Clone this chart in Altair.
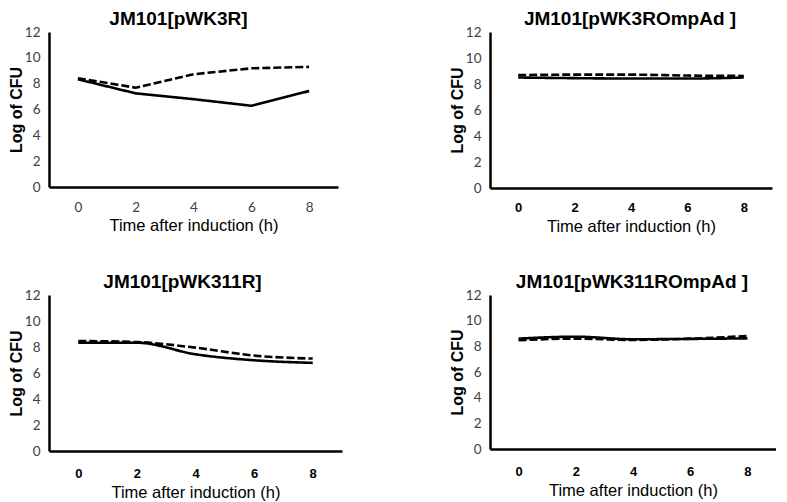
import altair as alt
import pandas as pd

times = [0, 2, 4, 6, 8]
titles = ["JM101[pWK3R]", "JM101[pWK3ROmpAd ]", "JM101[pWK311R]", "JM101[pWK311ROmpAd ]"]
series_names = ["Series 1", "Series 2"]

p1_solid = [8.34, 7.25, 6.8, 6.29, 7.43]
p1_dash = [8.42, 7.69, 8.73, 9.19, 9.3]
p2_solid = [8.5, 8.45, 8.42, 8.42, 8.5]
p2_dash = [8.68, 8.72, 8.72, 8.65, 8.62]
p3_solid = [8.33, 8.33, 7.44, 6.98, 6.78]
p3_dash = [8.46, 8.38, 7.95, 7.34, 7.11]
p4_solid = [8.6, 8.75, 8.55, 8.58, 8.62]
p4_dash = [8.48, 8.6, 8.5, 8.6, 8.8]

panel_values = [(p1_solid, p1_dash), (p2_solid, p2_dash), (p3_solid, p3_dash), (p4_solid, p4_dash)]

TICK_FONT = "Lato"
BOLD_FONT = "Liberation Sans"


def make_panel(idx, width, height, interp, bold_x, title_dx, x_label_pad):
    solid, dash = panel_values[idx]
    rows = []
    for t, v in zip(times, solid):
        rows.append({"time": t, "cfu": v, "series": series_names[0]})
    for t, v in zip(times, dash):
        rows.append({"time": t, "cfu": v, "series": series_names[1]})
    df = pd.DataFrame(rows)
    if bold_x:
        xlab = dict(labelFont=BOLD_FONT, labelFontWeight="bold", labelColor="black", labelFontSize=13)
    else:
        xlab = dict(labelFont=TICK_FONT, labelFontWeight="normal", labelColor="#404040", labelFontSize=13.5)
    chart = alt.Chart(df).mark_line(strokeWidth=2.6, interpolate=interp, color="black").encode(
        x=alt.X("time:O", sort=times,
                scale=alt.Scale(type="point", padding=0.5),
                axis=alt.Axis(title="Time after induction (h)", labelAngle=0, ticks=False,
                              domainWidth=2.5, domainColor="black", grid=False,
                              labelPadding=x_label_pad, titlePadding=4,
                              titleFont=BOLD_FONT, titleFontSize=16.5, titleFontWeight="normal",
                              titleColor="black", **xlab)),
        y=alt.Y("cfu:Q", scale=alt.Scale(domain=[0, 12], nice=False, zero=True),
                axis=alt.Axis(title="Log of CFU", values=[0, 2, 4, 6, 8, 10, 12], ticks=False,
                              domainWidth=2.5, domainColor="black", grid=False,
                              labelFont=TICK_FONT, labelFontSize=13.5, labelColor="#404040",
                              labelPadding=9, titlePadding=0,
                              titleFont=BOLD_FONT, titleFontSize=16, titleFontWeight="bold",
                              titleColor="black")),
        strokeDash=alt.StrokeDash("series:N",
                                  scale=alt.Scale(domain=series_names, range=[[1, 0], [8, 3]]),
                                  legend=None),
    ).properties(
        width=width, height=height,
        title=alt.TitleParams(text=titles[idx], font=BOLD_FONT, fontSize=19, fontWeight="bold",
                              color="black", anchor="middle", frame="group", dx=title_dx, offset=-4),
    )
    return chart


c1 = make_panel(0, 289, 155, "linear", False, -15, 13)
c2 = make_panel(1, 282, 156, "monotone", True, -1, 13)
c3 = make_panel(2, 293, 156, "monotone", True, -13, 16)
c4 = make_panel(3, 286, 154, "monotone", True, -1, 16)

top = alt.hconcat(c1, c2, spacing=111)
bottom = alt.hconcat(c3, c4, spacing=107)
chart = alt.vconcat(top, bottom, spacing=38).properties(
    padding={"left": 0, "top": 2, "right": 0, "bottom": 0}
).configure_view(stroke=None)

chart.save("out.html", embed_options={"renderer": "svg", "actions": False})
